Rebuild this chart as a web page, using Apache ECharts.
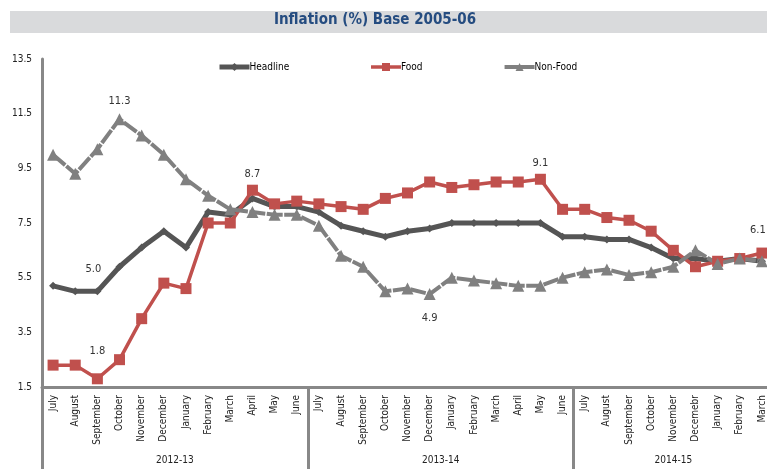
<!DOCTYPE html>
<html>
<head>
<meta charset="utf-8">
<script src="https://cdn.jsdelivr.net/npm/echarts@6/dist/echarts.min.js"></script>
<style>
  html, body { margin: 0; padding: 0; background: #fff; }
  #chart { width: 767px; height: 469px; }
</style>
</head>
<body>
<div id="chart"></div>
<script>
const FONT = "'Liberation Sans Narrow', 'DejaVu Sans Condensed', sans-serif";

const periods = ["2012-13", "2013-14", "2014-15"];
const periodLengths = [12, 12, 9];
const months = [
  "July", "August", "September", "October", "November", "December",
  "January", "February", "March", "April", "May", "June",
  "July", "August", "September", "October", "November", "December",
  "January", "February", "March", "April", "May", "June",
  "July", "August", "September", "October", "November", "Decemebr",
  "January", "February", "March"
];
const yTicks = [1.5, 13.5, 2]; // min, max, step

const headline = [5.2, 5.0, 5.0, 5.9, 6.6, 7.2, 6.6, 7.9, 7.8, 8.4, 8.1, 8.1,
  7.9, 7.4, 7.2, 7.0, 7.2, 7.3, 7.5, 7.5, 7.5, 7.5, 7.5, 7.0,
  7.0, 6.9, 6.9, 6.6, 6.2, 6.2, 6.1, 6.2, 6.1];
const food = [2.3, 2.3, 1.8, 2.5, 4.0, 5.3, 5.1, 7.5, 7.5, 8.7, 8.2, 8.3,
  8.2, 8.1, 8.0, 8.4, 8.6, 9.0, 8.8, 8.9, 9.0, 9.0, 9.1, 8.0,
  8.0, 7.7, 7.6, 7.2, 6.5, 5.9, 6.1, 6.2, 6.4];
const nonFood = [10.0, 9.3, 10.2, 11.3, 10.7, 10.0, 9.1, 8.5, 8.0, 7.9, 7.8, 7.8,
  7.4, 6.3, 5.9, 5.0, 5.1, 4.9, 5.5, 5.4, 5.3, 5.2, 5.2, 5.5,
  5.7, 5.8, 5.6, 5.7, 5.9, 6.5, 6.0, 6.2, 6.1];

// indices of points that carry a value label
const headlineLabelled = [2, 32];
const foodLabelled = [2, 9, 22];
const nonFoodLabelled = [3, 17];

// period boundaries and centres on a 0..33 scale
const bounds = [0];
periodLengths.forEach((n, i) => bounds.push(bounds[i] + n));
const centres = periodLengths.map((n, i) => bounds[i] + n / 2);

function withLabels(values, idx, pos, dist, shift) {
  return values.map((v, i) => {
    if (idx.indexOf(i) < 0) return v;
    return {
      value: v,
      label: {
        show: true,
        position: pos(i),
        distance: dist(i),
        offset: [shift ? shift(i) : 0, 0],
        formatter: (d) => d.value.toFixed(1),
        fontFamily: FONT,
        fontSize: 11,
        color: "#333"
      }
    };
  });
}

const axisGray = "#888888";
const cHead = "#555555", cFood = "#C0504D", cNon = "#808080";
const chart = echarts.init(document.getElementById("chart"));

chart.setOption({
  animation: false,
  graphic: [{
    type: "rect",
    shape: { x: 10, y: 11, width: 757, height: 22 },
    style: { fill: "#D9DADC" },
    z: -1
  }],
  title: {
    text: "Inflation (%) Base 2005-06",
    left: 375,
    top: 13,
    textAlign: "center",
    padding: 0,
    textStyle: { fontFamily: FONT, fontSize: 15, fontWeight: "bold", color: "#254C80" }
  },
  legend: {
    left: 212,
    top: 57,
    itemWidth: 30,
    itemHeight: 10,
    itemGap: 80,
    textStyle: { fontFamily: FONT, fontSize: 10, color: "#000", padding: [0, 0, 0, -5] },
    data: [
      { name: "Headline", lineStyle: { width: 5, color: cHead } },
      { name: "Food", lineStyle: { width: 3.5, color: cFood } },
      { name: "Non-Food", lineStyle: { width: 4, color: cNon, type: "solid" } }
    ]
  },
  grid: { left: 42, width: 731, top: 59, bottom: 82, outerBoundsMode: "none", containLabel: false },
  xAxis: [{
    type: "category",
    data: months,
    boundaryGap: true,
    axisLine: { lineStyle: { color: axisGray, width: 3 } },
    axisTick: { show: false },
    axisLabel: {
      interval: 0,
      rotate: 90,
      margin: 8,
      fontFamily: FONT,
      fontSize: 10,
      color: "#222"
    }
  }, {
    type: "value",
    min: 0,
    max: bounds[bounds.length - 1],
    position: "bottom",
    axisLine: { show: false },
    splitLine: { show: false },
    axisTick: {
      show: true,
      customValues: bounds,
      length: 82,
      lineStyle: { color: axisGray, width: 3 }
    },
    axisLabel: {
      customValues: centres,
      formatter: (v) => periods[centres.indexOf(v)],
      margin: 68,
      fontFamily: FONT,
      fontSize: 10,
      color: "#222"
    }
  }],
  yAxis: {
    type: "value",
    min: yTicks[0],
    max: yTicks[1],
    interval: yTicks[2],
    axisLine: { show: true, lineStyle: { color: axisGray, width: 3 } },
    axisTick: { show: false },
    splitLine: { show: false },
    axisLabel: {
      margin: 10,
      formatter: (v) => v.toFixed(1),
      fontFamily: FONT,
      fontSize: 10,
      color: "#222"
    }
  },
  series: [{
    name: "Headline",
    type: "line",
    data: withLabels(headline, headlineLabelled, () => "top", (i) => (i === 2 ? 13 : 22), () => -4),
    symbol: "diamond",
    symbolSize: 8,
    color: cHead,
    lineStyle: { width: 5, color: cHead },
    itemStyle: { color: cHead }
  }, {
    name: "Food",
    type: "line",
    data: withLabels(food, foodLabelled, () => "top", (i) => (i === 2 ? 17 : 5)),
    symbol: "rect",
    symbolSize: 11,
    color: cFood,
    lineStyle: { width: 3.5, color: cFood },
    itemStyle: { color: cFood }
  }, {
    name: "Non-Food",
    type: "line",
    data: withLabels(nonFood, nonFoodLabelled, (i) => (i === 17 ? "bottom" : "top"), (i) => (i === 17 ? 13 : 6)),
    symbol: "triangle",
    symbolSize: 12,
    color: cNon,
    lineStyle: { width: 4, color: cNon, type: [16, 1.5] },
    itemStyle: { color: cNon }
  }]
});
</script>
</body>
</html>
